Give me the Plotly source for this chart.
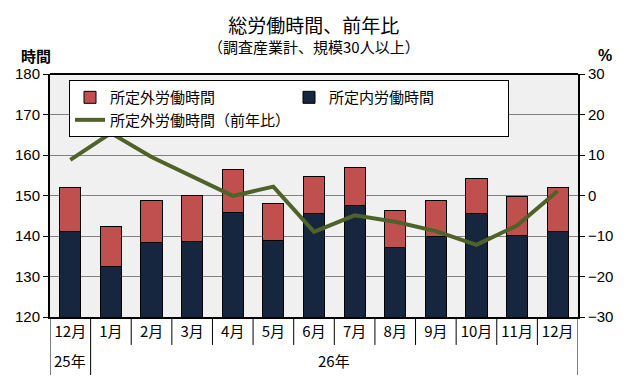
import plotly.graph_objects as go

title_text = "総労働時間、前年比"
subtitle_text = "（調査産業計、規模30人以上）"
months = ["12月", "1月", "2月", "3月", "4月", "5月", "6月", "7月", "8月", "9月", "10月", "11月", "12月"]
year_labels = ["25年", "26年"]
year_spans = [(0, 0), (1, 12)]
scheduled = [141.2, 132.5, 138.4, 138.7, 145.9, 138.9, 145.6, 147.6, 137.2, 139.9, 145.6, 140.2, 141.2]
total = [152.0, 142.4, 148.8, 150.0, 156.5, 148.1, 154.6, 157.0, 146.3, 148.8, 154.2, 149.8, 152.0]
overtime_yoy = [8.8, 15.4, 9.5, 4.8, -0.1, 2.2, -9.0, -4.9, -6.5, -8.8, -12.2, -7.4, 1.1]
overtime = [round(t - s, 1) for t, s in zip(total, scheduled)]

xs = list(range(len(months)))
JP = "Noto Sans CJK JP"

fig = go.Figure()
fig.add_trace(go.Bar(x=xs, y=scheduled, name="所定内労働時間",
                     marker=dict(color="#17263F", line=dict(color="black", width=1)),
                     legendrank=2, width=0.52))
fig.add_trace(go.Bar(x=xs, y=overtime, name="所定外労働時間",
                     marker=dict(color="#C0504D", line=dict(color="black", width=1)),
                     legendrank=1, width=0.52))
fig.add_trace(go.Scatter(x=xs, y=overtime_yoy, name="所定外労働時間（前年比）", mode="lines", yaxis="y2",
                         line=dict(color="#4F6228", width=4), legendrank=3))

shapes = [dict(type="line", xref="paper", yref="paper", x0=0, x1=1, y0=1, y1=1,
               line=dict(color="black", width=2))]
# month separators (short) and year separators (long)
year_bounds = set()
for a, b in year_spans:
    year_bounds.add(a - 0.5)
    year_bounds.add(b + 0.5)
for i in range(len(months) + 1):
    xb = i - 0.5
    y1 = -0.239 if xb in year_bounds else -0.115
    shapes.append(dict(type="line", xref="x", yref="paper", x0=xb, x1=xb, y0=0, y1=y1,
                       line=dict(color="black", width=1)))

annotations = [
    dict(text="<span style='font-size:19px'>" + title_text + "</span><br>" + subtitle_text,
         xref="paper", yref="paper", x=0.5, y=1, yshift=65, yanchor="top",
         showarrow=False, font=dict(family=JP, size=15, color="black"), xanchor="center", align="center"),
    dict(text="<b>時間</b>", xref="paper", yref="paper", x=0, y=1, xshift=-14, yshift=19, yanchor="middle",
         showarrow=False, font=dict(family=JP, size=15, color="black"), xanchor="center"),
    dict(text="<b>%</b>", xref="paper", yref="paper", x=1, y=1, xshift=27, yshift=19, yanchor="middle",
         showarrow=False, font=dict(family="Liberation Sans", size=16, color="black"), xanchor="center"),
]
for lab, (a, b) in zip(year_labels, year_spans):
    annotations.append(dict(text=lab, xref="x", yref="paper", x=(a + b) / 2, y=-0.18, yanchor="middle",
                            showarrow=False, font=dict(family=JP, size=15, color="black"), xanchor="center"))

fig.update_layout(
    width=630, height=380,
    margin=dict(l=42, r=60, t=66, b=71, autoexpand=False),
    barmode="stack",
    paper_bgcolor="white",
    plot_bgcolor="#F0F0F0",
    showlegend=True,
    legend=dict(orientation="h", x=0.036, y=0.975, xanchor="left", yanchor="top",
                bgcolor="white", bordercolor="black", borderwidth=1,
                font=dict(family=JP, size=15, color="black"),
                entrywidth=174, entrywidthmode="pixels", traceorder="normal",
                itemwidth=30, tracegroupgap=0),
    xaxis=dict(range=[-0.5, len(months) - 0.5], tickvals=xs, ticktext=months, tickangle=0,
               showline=True, linecolor="black", linewidth=2, ticks="", showgrid=False, zeroline=False,
               tickfont=dict(family=JP, size=15, color="black"), automargin=False, fixedrange=True),
    yaxis=dict(range=[120, 180], dtick=10, showline=True, linecolor="black", linewidth=2,
               ticks="outside", ticklen=5, tickcolor="black",
               gridcolor="#808080", gridwidth=1, automargin=False,
               tickfont=dict(family="Liberation Sans", size=15, color="black"), zeroline=False),
    yaxis2=dict(range=[-30, 30], dtick=10, overlaying="y", side="right", showline=True,
                linecolor="black", linewidth=2, ticks="outside", ticklen=5, tickcolor="black",
                showgrid=False, zeroline=False, tickformat="d", automargin=False,
                tickfont=dict(family="Liberation Sans", size=15, color="black")),
    shapes=shapes,
    annotations=annotations,
)

fig.write_html("out.html")
